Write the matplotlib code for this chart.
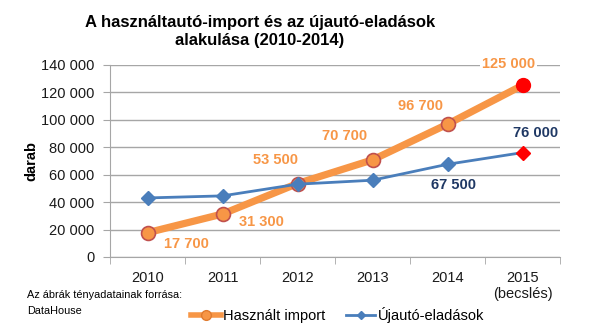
import matplotlib
matplotlib.use("Agg")
import matplotlib.pyplot as plt
from matplotlib.lines import Line2D
from matplotlib.ticker import FuncFormatter, FixedLocator

plt.rcParams['font.family'] = ['Liberation Sans', 'DejaVu Sans']

categories = ["2010", "2011", "2012", "2013", "2014", "2015\n(becslés)"]
used_import = [17700, 31300, 53500, 70700, 96700, 125000]
new_sales = [43000, 44500, 53000, 55900, 67500, 76000]
used_labels = ["17 700", "31 300", "53 500", "70 700", "96 700", "125 000"]
new_labels = {4: "67 500", 5: "76 000"}
yticks = [0, 20000, 40000, 60000, 80000, 100000, 120000, 140000]

fig = plt.figure(figsize=(6.0, 3.28), dpi=100)
ax = fig.add_axes([110/600, 1-257/328, 450/600, (257-64.7)/328])

x = list(range(len(categories)))
orange = "#F79646"
blue = "#4A7EBB"
grid_c = "#A6A6A6"

ax.plot(x, used_import, color=orange, lw=5.2, zorder=3, solid_capstyle='butt')
ax.plot(x[:-1], used_import[:-1], 'o', ms=10, mfc=orange, mec="#C0504D", mew=1.2, zorder=4)
ax.plot(x[-1:], used_import[-1:], 'o', ms=10, mfc="#FF0000", mec="#FF0000", zorder=4)

ax.plot(x, new_sales, color=blue, lw=2.0, zorder=5)
ax.plot(x[:-1], new_sales[:-1], 'D', ms=7, mfc=blue, mec=blue, zorder=6)
ax.plot(x[-1:], new_sales[-1:], 'D', ms=7, mfc="#FF0000", mec="#FF0000", zorder=6)

ax.set_xlim(-0.5, 5.5)
ax.set_ylim(0, 140000)
ax.yaxis.set_major_locator(FixedLocator(yticks))
ax.yaxis.set_major_formatter(FuncFormatter(lambda v, p: f"{int(v):,}".replace(",", " ")))
ax.grid(axis='y', color=grid_c, lw=1.0, zorder=0)
ax.set_axisbelow(True)
ax.set_xticks(x)
ax.set_xticklabels(categories, fontsize=10.5, color="#1a1a1a", linespacing=1.2)
ax.set_xticks([i + 0.5 for i in range(-1, 6)], minor=True)
ax.tick_params(axis='x', which='major', length=0, pad=10)
ax.tick_params(axis='x', which='minor', length=5, color=grid_c, direction='out')
ax.tick_params(axis='y', length=5, color=grid_c, labelsize=10.5, labelcolor="#1a1a1a", pad=6)
for s in ['top', 'right']:
    ax.spines[s].set_visible(False)
ax.spines['left'].set_color(grid_c)
ax.spines['bottom'].set_color(grid_c)

ax.set_ylabel("darab", fontsize=10.5, fontweight='bold', labelpad=2)

offsets = [(39, -11), (39, -8), (-22, 24), (-28, 24), (-27, 18), (-14, 21)]
for i, (lab, off) in enumerate(zip(used_labels, offsets)):
    ax.annotate(lab, (x[i], used_import[i]), xytext=off, textcoords='offset pixels',
                ha='center', va='center', fontsize=10.5, fontweight='bold', color="#F79646",
                annotation_clip=False, zorder=7,
                bbox=dict(boxstyle='square,pad=0.15', fc='white', ec='none') if i == 5 else None)
new_offsets = {4: (6, -21), 5: (13, 20)}
for i, lab in new_labels.items():
    ax.annotate(lab, (x[i], new_sales[i]), xytext=new_offsets[i], textcoords='offset pixels',
                ha='center', va='center', fontsize=10.5, fontweight='bold', color="#1F3864",
                annotation_clip=False, zorder=7)

fig.text(260/600, 1-31/328, "A használtautó-import és az újautó-eladások\nalakulása (2010-2014)",
         ha='center', va='center', fontsize=12, fontweight='bold', linespacing=1.25)

fig.text(27/600, 1-303/328, "Az ábrák tényadatainak forrása:\nDataHouse", ha='left', va='center',
         fontsize=7.8, linespacing=1.75)

handles = [Line2D([], [], color=orange, lw=4, marker='o', ms=7, mfc=orange, mec="#E07B30"),
           Line2D([], [], color=blue, lw=2, marker='D', ms=4.5, mfc=blue, mec=blue)]
fig.legend(handles, ["Használt import", "Újautó-eladások"], loc='center',
           bbox_to_anchor=(338/600, 1-315/328), ncol=2, frameon=False, fontsize=10.5,
           handlelength=2.0, handletextpad=0.2, columnspacing=1.4)

fig.savefig("out.png", dpi=100)
